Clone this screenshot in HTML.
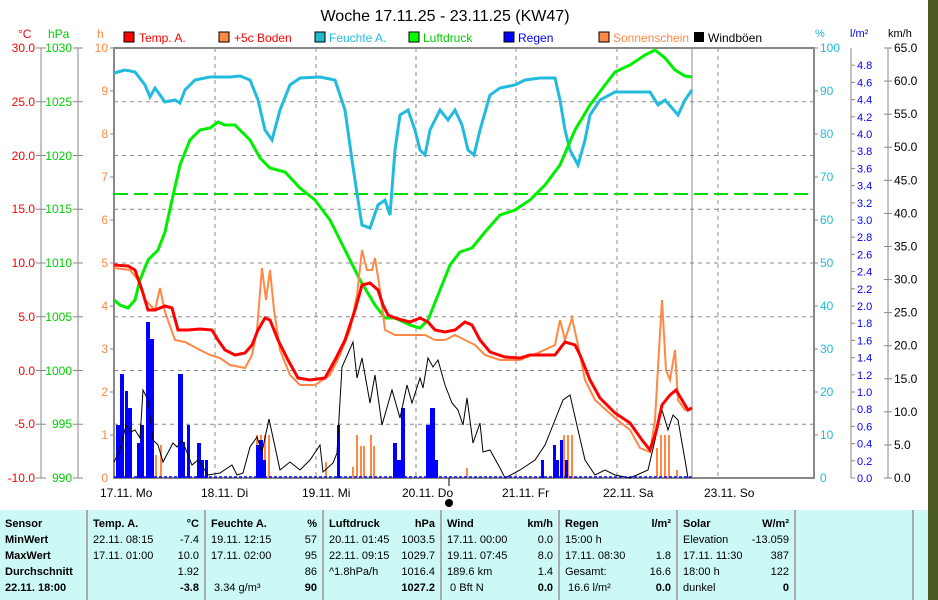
<!DOCTYPE html>
<html><head><meta charset="utf-8"><style>
body{margin:0;width:938px;height:600px;overflow:hidden;background:#fff;font-family:"Liberation Sans",sans-serif}
svg text{font-family:"Liberation Sans",sans-serif}
.tb{position:absolute;left:0;top:510px;width:928px;height:90px;background:#ccf8f6}
.col{position:absolute;top:0;height:90px;border-right:2px solid #aaa;font-size:11px;line-height:16px;padding-top:6px;box-sizing:border-box}
.r{display:flex;justify-content:space-between;padding:0 5px;white-space:nowrap}
.b{font-weight:bold}
</style></head><body>
<svg width="938" height="600" style="position:absolute;left:0;top:0">
<rect x="928" y="0" width="10" height="600" fill="#4a5a22"/>
<text x="445" y="21" font-size="16" text-anchor="middle">Woche 17.11.25 - 23.11.25 (KW47)</text>
<g font-size="12">
<text x="18" y="38" fill="red">°C</text><text x="48" y="38" fill="#0c0">hPa</text><text x="97" y="38" fill="#f84">h</text>
<rect x="124" y="32" width="10" height="10" fill="red" stroke="#000"/><text x="139" y="42" fill="red">Temp. A.</text>
<rect x="219" y="32" width="10" height="10" fill="#f84" stroke="#000"/><text x="234" y="42" fill="red">+5c Boden</text>
<rect x="315" y="32" width="10" height="10" fill="#2bc" stroke="#000"/><text x="329" y="42" fill="#2bd">Feuchte A.</text>
<rect x="409" y="32" width="10" height="10" fill="#0f0" stroke="#000"/><text x="423" y="42" fill="#0c0">Luftdruck</text>
<rect x="504" y="32" width="10" height="10" fill="#00f" stroke="#000"/><text x="518" y="42" fill="#00f">Regen</text>
<rect x="599" y="32" width="10" height="10" fill="#f84" stroke="#000"/><text x="613" y="42" fill="#f84">Sonnenschein</text>
<rect x="694" y="32" width="10" height="10" fill="#000"/><text x="708" y="42">Windböen</text>
<text x="815" y="37" fill="#2bd" font-size="11">%</text><text x="850" y="37" fill="#00f" font-size="11">l/m²</text><text x="888" y="37" font-size="11">km/h</text>
</g>
<g stroke="#888" stroke-dasharray="4,4" stroke-width="1">
<line x1="114" y1="101.75" x2="814" y2="101.75"/><line x1="114" y1="155.5" x2="814" y2="155.5"/><line x1="114" y1="209.25" x2="814" y2="209.25"/><line x1="114" y1="263" x2="814" y2="263"/><line x1="114" y1="316.75" x2="814" y2="316.75"/><line x1="114" y1="370.5" x2="814" y2="370.5"/><line x1="114" y1="424.25" x2="814" y2="424.25"/>
<line x1="215" y1="48" x2="215" y2="478"/><line x1="316" y1="48" x2="316" y2="478"/><line x1="416" y1="48" x2="416" y2="478"/><line x1="516" y1="48" x2="516" y2="478"/><line x1="617" y1="48" x2="617" y2="478"/><line x1="718" y1="48" x2="718" y2="478"/>
</g>
<line x1="692" y1="48" x2="692" y2="478" stroke="#888"/>
<rect x="114" y="48" width="700" height="430" fill="none" stroke="#888" stroke-width="2"/>
<g stroke="#888">
<line x1="41" y1="48" x2="41" y2="478"/><line x1="78" y1="48" x2="78" y2="478"/><line x1="851" y1="48" x2="851" y2="478"/><line x1="888" y1="48" x2="888" y2="478"/>
<path d="M36 48h10M36 101.75h10M36 155.5h10M36 209.25h10M36 263h10M36 316.75h10M36 370.5h10M36 424.25h10M36 478h10M73 48h10M73 101.75h10M73 155.5h10M73 209.25h10M73 263h10M73 316.75h10M73 370.5h10M73 424.25h10M73 478h10"/>
<path d="M110 48h4M110 91h4M110 134h4M110 177h4M110 220h4M110 263h4M110 306h4M110 349h4M110 392h4M110 435h4M814 48h4M814 91h4M814 134h4M814 177h4M814 220h4M814 263h4M814 306h4M814 349h4M814 392h4M814 435h4"/>
</g>
<g font-size="12" text-anchor="end" fill="red">
<text x="35" y="52">30.0</text><text x="35" y="106">25.0</text><text x="35" y="160">20.0</text><text x="35" y="213">15.0</text><text x="35" y="267">10.0</text><text x="35" y="321">5.0</text><text x="35" y="375">0.0</text><text x="35" y="428">-5.0</text><text x="35" y="482">-10.0</text></g>
<g font-size="12" text-anchor="end" fill="#0c0">
<text x="72" y="52">1030</text><text x="72" y="106">1025</text><text x="72" y="160">1020</text><text x="72" y="213">1015</text><text x="72" y="267">1010</text><text x="72" y="321">1005</text><text x="72" y="375">1000</text><text x="72" y="428">995</text><text x="72" y="482">990</text></g>
<g font-size="12" text-anchor="end" fill="#f84">
<text x="108" y="52">10</text><text x="108" y="95">9</text><text x="108" y="138">8</text><text x="108" y="181">7</text><text x="108" y="224">6</text><text x="108" y="267">5</text><text x="108" y="310">4</text><text x="108" y="353">3</text><text x="108" y="396">2</text><text x="108" y="439">1</text><text x="108" y="482">0</text></g>
<g font-size="12" fill="#2bd">
<text x="820" y="52">100</text><text x="820" y="95">90</text><text x="820" y="138">80</text><text x="820" y="181">70</text><text x="820" y="224">60</text><text x="820" y="267">50</text><text x="820" y="310">40</text><text x="820" y="353">30</text><text x="820" y="396">20</text><text x="820" y="439">10</text><text x="820" y="482">0</text></g>
<g font-size="11" fill="#00f" id="rl"></g>
<g font-size="12" id="kl"></g>
<line x1="114" y1="194" x2="814" y2="194" stroke="#0d0" stroke-width="2" stroke-dasharray="14,6"/>
<g id="bars"></g>
<polyline fill="none" stroke="#000" stroke-width="1" points="114,462 120,450 126,425 131,432 135,430 140,438 143,390 148,400 153,440 158,445 163,462 173,443 177,447 182,440 192,465 198,460 208,475 220,473 232,465 237,475 243,473 250,447 257,437 262,452 269,419 280,470 290,462 300,470 310,460 320,445 323,472 333,463 337,453 342,367 353,342 357,378 362,358 370,403 375,375 382,425 392,390 400,418 407,385 412,403 420,378 423,388 428,358 433,367 438,360 445,385 452,403 458,410 463,425 467,398 473,443 480,423 483,452 490,450 500,468 505,478 520,470 535,460 545,445 555,420 563,400 570,395 578,430 585,460 595,475 605,470 615,475 630,478 648,470 655,440 662,410 668,430 673,415 678,420 685,460 688,478"/>
<polyline fill="none" stroke="#2bd" stroke-width="3" points="114,73 125,70 135,72 145,85 150,97 155,88 160,95 165,102 175,100 180,103 185,90 195,80 210,77 230,77 240,76 250,80 258,100 265,130 272,140 280,110 290,85 300,78 320,77 335,80 345,110 352,160 358,200 362,225 370,228 378,205 385,200 390,215 395,150 400,115 408,110 415,130 420,150 425,155 430,130 440,110 448,120 455,110 462,125 468,150 474,155 480,130 490,95 500,88 515,85 525,80 540,78 555,78 560,100 565,130 570,150 578,165 585,140 590,115 600,100 615,92 650,92 658,105 665,100 672,108 678,115 685,100 692,90"/>
<polyline fill="none" stroke="#0e0" stroke-width="3" points="114,300 120,305 128,308 135,300 140,280 148,260 158,250 165,232 172,200 180,165 190,140 200,130 210,128 218,122 225,125 235,125 250,140 260,158 270,168 285,172 300,188 315,200 330,220 345,250 360,280 375,305 385,318 395,318 410,325 420,328 428,320 440,290 450,265 460,252 472,248 485,232 500,215 515,210 530,200 545,185 560,165 575,130 590,105 605,85 615,72 630,65 645,55 655,50 665,58 675,70 685,76 692,77"/>
<polyline fill="none" stroke="#f84" stroke-width="2" points="114,268 130,270 138,280 145,300 155,310 160,288 165,312 175,340 185,342 200,350 210,355 220,358 230,365 245,368 252,355 257,330 262,268 266,300 270,270 274,310 280,350 290,375 300,385 315,385 330,375 340,355 350,330 357,295 362,250 367,270 372,270 375,258 380,290 385,330 395,335 425,335 435,340 445,340 455,335 465,340 475,345 485,355 500,360 520,360 540,352 555,345 560,320 565,340 572,318 578,345 585,380 595,400 615,418 630,430 640,448 650,452 655,420 659,350 662,300 666,370 670,380 675,350 678,400 685,410 692,408"/>
<polyline fill="none" stroke="#f00" stroke-width="3" points="114,265 128,266 135,270 142,290 148,310 155,310 165,306 172,308 178,330 188,330 200,329 212,330 218,340 225,350 235,355 245,353 252,345 258,330 265,318 270,320 278,340 288,360 298,378 310,380 325,378 335,360 345,340 355,310 362,285 370,283 378,290 383,305 388,315 395,318 402,320 410,322 420,318 428,322 435,330 445,332 455,330 465,322 472,325 480,340 490,352 505,357 520,358 530,355 555,355 565,342 575,345 580,355 590,380 600,398 615,413 630,423 642,440 650,450 656,432 662,405 670,395 676,390 682,400 688,410 692,408"/>
<line x1="114" y1="477" x2="692" y2="477" stroke="#00f" stroke-width="1.5" stroke-dasharray="3,2"/>
<g font-size="12">
<text x="100" y="497">17.11. Mo</text><text x="201" y="497">18.11. Di</text><text x="302" y="497">19.11. Mi</text><text x="402" y="497">20.11. Do</text><text x="502" y="497">21.11. Fr</text><text x="603" y="497">22.11. Sa</text><text x="704" y="497">23.11. So</text></g>
<line x1="449" y1="478" x2="449" y2="486" stroke="#000"/>
<circle cx="449" cy="503" r="4" fill="#000"/>
</svg>
<div class="tb">
<div class="col" style="left:0;width:88px"><div class="r b">Sensor</div><div class="r b">MinWert</div><div class="r b">MaxWert</div><div class="r b">Durchschnitt</div><div class="r b">22.11. 18:00</div></div>
<div class="col" style="left:88px;width:118px"><div class="r b"><span>Temp. A.</span><span>°C</span></div><div class="r"><span>22.11. 08:15</span><span>-7.4</span></div><div class="r"><span>17.11. 01:00</span><span>10.0</span></div><div class="r"><span></span><span>1.92</span></div><div class="r b"><span></span><span>-3.8</span></div></div>
<div class="col" style="left:206px;width:118px"><div class="r b"><span>Feuchte A.</span><span>%</span></div><div class="r"><span>19.11. 12:15</span><span>57</span></div><div class="r"><span>17.11. 02:00</span><span>95</span></div><div class="r"><span></span><span>86</span></div><div class="r"><span>&nbsp;3.34 g/m³</span><b>90</b></div></div>
<div class="col" style="left:324px;width:118px"><div class="r b"><span>Luftdruck</span><span>hPa</span></div><div class="r"><span>20.11. 01:45</span><span>1003.5</span></div><div class="r"><span>22.11. 09:15</span><span>1029.7</span></div><div class="r"><span>^1.8hPa/h</span><span>1016.4</span></div><div class="r b"><span></span><span>1027.2</span></div></div>
<div class="col" style="left:442px;width:118px"><div class="r b"><span>Wind</span><span>km/h</span></div><div class="r"><span>17.11. 00:00</span><span>0.0</span></div><div class="r"><span>19.11. 07:45</span><span>8.0</span></div><div class="r"><span>189.6 km</span><span>1.4</span></div><div class="r"><span>&nbsp;0 Bft N</span><b>0.0</b></div></div>
<div class="col" style="left:560px;width:118px"><div class="r b"><span>Regen</span><span>l/m²</span></div><div class="r"><span>15:00 h</span><span></span></div><div class="r"><span>17.11. 08:30</span><span>1.8</span></div><div class="r"><span>Gesamt:</span><span>16.6</span></div><div class="r"><span>&nbsp;16.6 l/m²</span><b>0.0</b></div></div>
<div class="col" style="left:678px;width:118px"><div class="r b"><span>Solar</span><span>W/m²</span></div><div class="r"><span>Elevation</span><span>-13.059</span></div><div class="r"><span>17.11. 11:30</span><span>387</span></div><div class="r"><span>18:00 h</span><span>122</span></div><div class="r"><span>dunkel</span><b>0</b></div></div>
<div class="col" style="left:796px;width:118px"></div>
</div>
<script>
var NS="http://www.w3.org/2000/svg";
function el(p,t,a,txt){var e=document.createElementNS(NS,t);for(var k in a)e.setAttribute(k,a[k]);if(txt)e.textContent=txt;p.appendChild(e);return e;}
var rl=document.getElementById('rl'),kl=document.getElementById('kl'),svg=document.querySelector('svg');
for(var i=0;i<=24;i++){var y=478-i*17.2;el(svg,'line',{x1:851,y1:y,x2:855,y2:y,stroke:'#888'});el(rl,'text',{x:857,y:y+4},(i*0.2).toFixed(1));}
for(var i=0;i<=13;i++){var y=478-i*430/13;el(svg,'line',{x1:884,y1:y,x2:892,y2:y,stroke:'#888'});el(kl,'text',{x:894,y:y+4},(i*5).toFixed(1));}
var b=document.getElementById('bars');
[[155,455],[160,445],[256,435],[260,435],[264,435],[268,435],[325,462],[352,467],[356,435],[360,446],[363,446],[370,435],[373,446],[466,468],[563,435],[567,435],[571,435],[656,448],[660,435],[664,435],[668,435],[676,470]].forEach(function(s){el(b,'rect',{x:s[0],y:s[1],width:2,height:478-s[1],fill:'#f84'});});
[[116,425,4],[120,374,4],[125,391,3],[128,408,4],[137,443,3],[140,425,4],[146,322,4],[150,339,4],[178,374,5],[183,442,2],[187,425,3],[197,443,4],[201,460,3],[205,460,3],[256,445,3],[259,440,4],[263,460,3],[337,425,3],[393,443,4],[397,460,4],[401,408,4],[426,425,4],[430,408,5],[435,460,3],[541,460,3],[553,445,3],[556,460,3],[560,440,3],[565,460,3]].forEach(function(s){el(b,'rect',{x:s[0],y:s[1],width:s[2],height:478-s[1],fill:'#00f'});});
</script>
</body></html>
